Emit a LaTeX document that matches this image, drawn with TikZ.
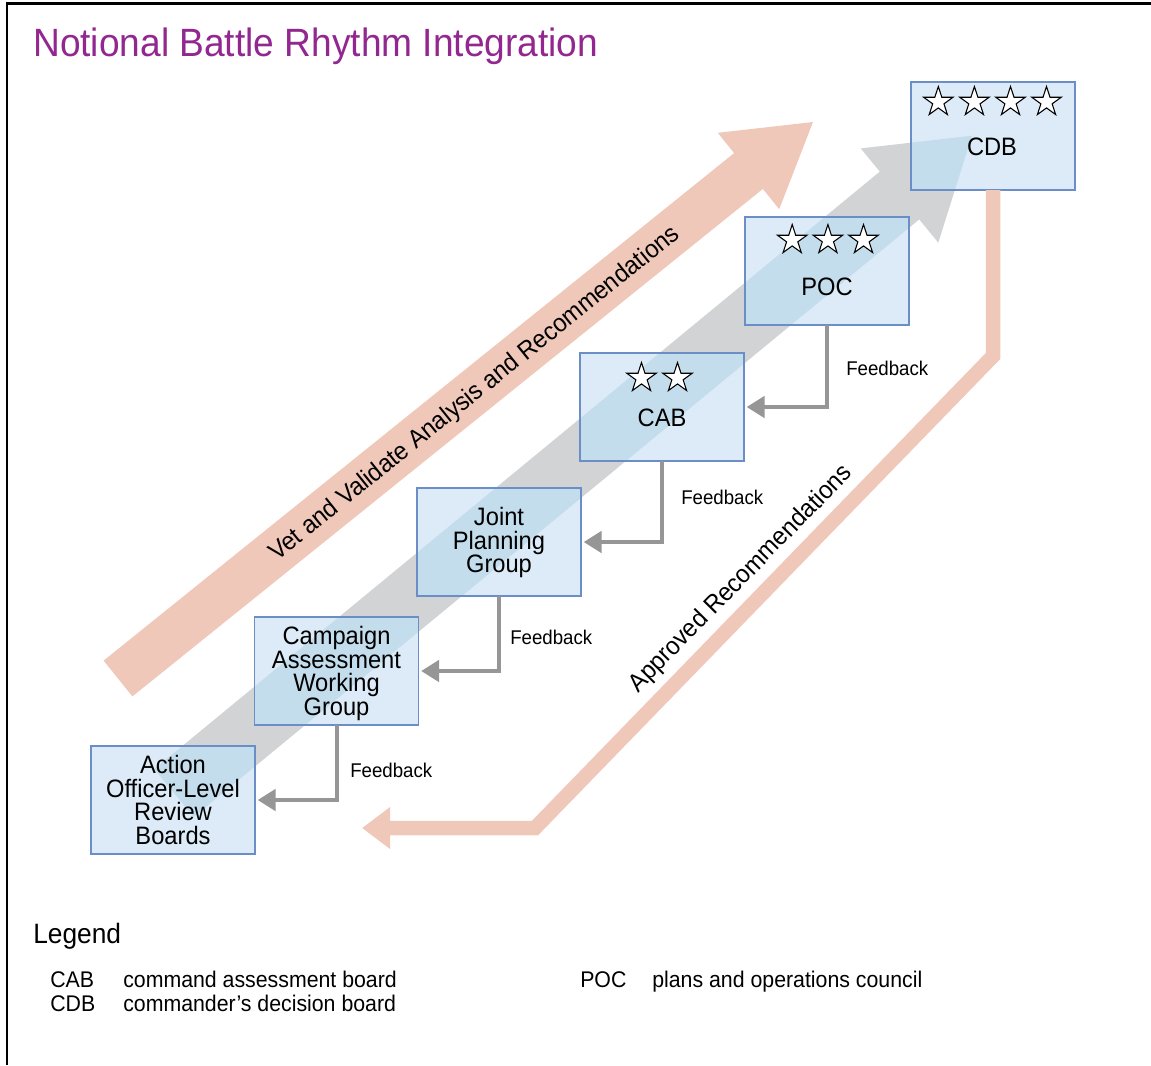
\documentclass[tikz,border=0pt]{standalone}
\usepackage{fontspec}
\setmainfont{Liberation Sans}[FakeStretch=0.94]
\usetikzlibrary{shapes.geometric,arrows.meta}
\definecolor{salmon}{RGB}{240,200,185}
\definecolor{arrowgray}{RGB}{209,211,212}
\definecolor{boxfill}{RGB}{220,235,247}
\definecolor{boxover}{RGB}{196,221,237}
\definecolor{boxline}{RGB}{108,142,199}
\definecolor{fbgray}{RGB}{150,150,150}
\definecolor{titlepurple}{RGB}{146,39,143}
\begin{document}
\begin{tikzpicture}[x=0.75pt,y=-0.75pt,
  boardfill/.style={fill=boxfill, draw=none, minimum width=123pt, minimum height=81pt, inner sep=0pt, outer sep=0pt},
  boardline/.style={draw=boxline, line width=1.1pt},
  boxtext/.style={align=center, inner sep=0pt, font=\fontsize{18.9}{17.8}\selectfont},
  starnode/.style={star, star points=5, star point ratio=2.618, minimum size=23.25pt, inner sep=0pt, draw=black, line width=0.8pt, fill=white},
  fb/.style={draw=fbgray, line width=3pt, -{Triangle[length=13.5pt,width=16pt]}, shorten >=2pt},
  fblabel/.style={anchor=base west, inner sep=0pt, font=\fontsize{14.9}{16}\selectfont},
  appr/.style={draw=salmon, line width=10.9pt, line join=miter, -{Triangle[length=21pt,width=30pt]}},
  legtext/.style={anchor=base west, inner sep=0pt, font=\fontsize{17}{20}\selectfont},
  graypath/.style={insert path={(154.3,769.1) -- (879.8,171.6) -- (860.7,148.4) -- (972,135.7) -- (938.3,242.6) -- (919.2,219.4) -- (193.7,816.9) -- cycle}}
]
\useasboundingbox (0,0) rectangle (1151,1065);
% frame
\draw[line width=2pt] (7,1065) -- (7,3.5) -- (1151,3.5);
% title
\node[anchor=base west, inner sep=0pt, text=titlepurple, font=\fontsize{29.6}{32}\selectfont] (title) at (33,56) {Notional Battle Rhythm Integration};
% big arrows
\fill[arrowgray, graypath];
\fill[salmon] (103.6,660.6) -- (734.1,153.1) -- (717.8,132.8) -- (813,122) -- (779.2,209.2) -- (762.9,188.9) -- (132.4,696.4) -- cycle;
\node[rotate=38.8, inner sep=0pt, font=\fontsize{19}{20}\selectfont] (vet) at (475,394) {Vet and Validate Analysis and Recommendations};
% boxes
\node[boardfill] (cdb) at (993,136) {};
\node[boardfill] (poc) at (827,271) {};
\node[boardfill] (cab) at (662,407) {};
\node[boardfill] (jpg) at (499,542) {};
\node[boardfill] (cawg) at (336.5,671) {};
\node[boardfill] (aolrb) at (173,800) {};
\begin{scope}
\clip (cdb.north west) rectangle (cdb.south east)
      (poc.north west) rectangle (poc.south east)
      (cab.north west) rectangle (cab.south east)
      (jpg.north west) rectangle (jpg.south east)
      (cawg.north west) rectangle (cawg.south east)
      (aolrb.north west) rectangle (aolrb.south east);
\fill[boxover, graypath];
\end{scope}
\foreach \b in {cdb,poc,cab,jpg,cawg,aolrb}
  \draw[boardline] (\b.north west) rectangle (\b.south east);
% approved recommendations
\coordinate (bend1) at (993,356);
\coordinate (bend2) at (535,828);
\coordinate (apprend) at (362,828);
\draw[appr] (cdb.south) -- (bend1) -- (bend2) -- (apprend);
\node[rotate=45.5, inner sep=0pt, font=\fontsize{19}{20}\selectfont] (apprtext) at (741,579) {Approved Recommendations};
% stars
\node[starnode] (s41) at (938.3,102) {};
\node[starnode] (s42) at (974.4,102) {};
\node[starnode] (s43) at (1010.5,102) {};
\node[starnode] (s44) at (1046.5,102) {};
\node[starnode] (s31) at (792.2,240) {};
\node[starnode] (s32) at (827.9,240) {};
\node[starnode] (s33) at (863.5,240) {};
\node[starnode] (s21) at (641.5,378) {};
\node[starnode] (s22) at (677.5,378) {};
% box texts
\node[boxtext] (cdbt) at (992,147) {CDB};
\node[boxtext] (poct) at (827,287) {POC};
\node[boxtext] (cabt) at (662,418) {CAB};
\node[boxtext] (jpgt) at (499,542.5) {Joint\\Planning\\Group};
\node[boxtext] (cawgt) at (336.5,673.5) {Campaign\\Assessment\\Working\\Group};
\node[boxtext] (aolrbt) at (173,800) {Action\\Officer-Level\\Review\\Boards};
% feedback
\draw[fb] (poc.south) |- (cab.east);
\draw[fb] (cab.south) |- (jpg.east);
\draw[fb] (jpg.south) |- (cawg.east);
\draw[fb] (cawg.south) |- (aolrb.east);
\node[fblabel] (fb1) at (846,375) {Feedback};
\node[fblabel] (fb2) at (681,504) {Feedback};
\node[fblabel] (fb3) at (510,644) {Feedback};
\node[fblabel] (fb4) at (350,777) {Feedback};
% legend
\node[anchor=base west, inner sep=0pt, font=\fontsize{21}{24}\selectfont] (legend) at (33,943) {Legend};
\node[legtext] (l1a) at (50,987) {CAB};
\node[legtext] (l1b) at (123,987) {command assessment board};
\node[legtext] (l2a) at (50,1011) {CDB};
\node[legtext] (l2b) at (123,1011) {commander’s decision board};
\node[legtext] (l3a) at (580,987) {POC};
\node[legtext] (l3b) at (652,987) {plans and operations council};
\end{tikzpicture}
\end{document}
